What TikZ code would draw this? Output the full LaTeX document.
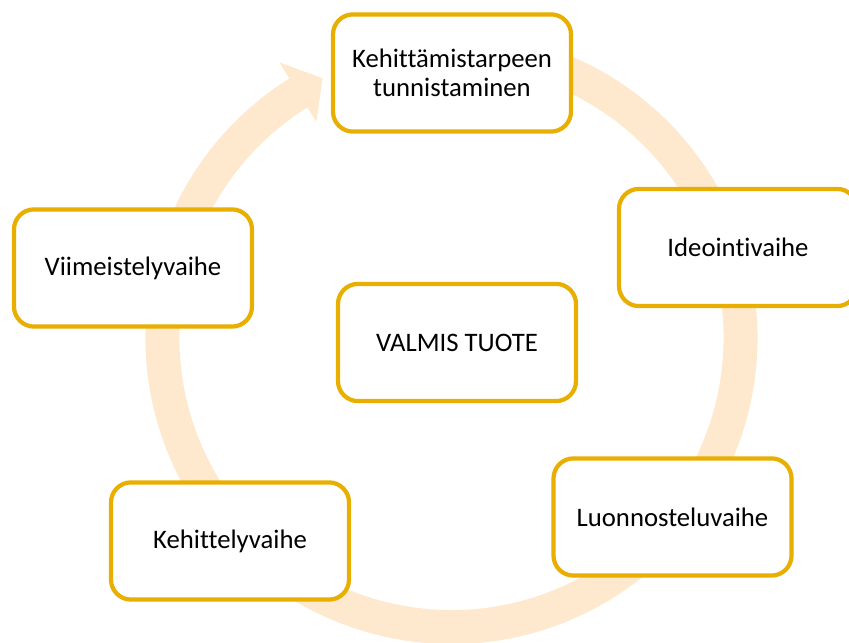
\documentclass[tikz,border=0pt]{standalone}
\usepackage{fontspec}
\setmainfont[Ligatures=NoCommon]{Carlito}
\usetikzlibrary{calc}
\definecolor{kulta}{RGB}{232,174,0}
\definecolor{persikka}{RGB}{254,232,206}
\newcommand{\kehasade}{7.225}
\tikzset{vaihe/.style={draw=kulta, line width=3pt, rounded corners=0.5cm, fill=white,
    minimum width=5.95cm, minimum height=2.93cm, align=center,
    font=\fontsize{19}{21}\selectfont}}

\begin{document}
\begin{tikzpicture}
                \useasboundingbox (0,0) rectangle (21.225,16.05);
                \coordinate (keskus) at (11.2875,7.6);

                % kehä ja nuolenkärki
                \draw[persikka, line width=0.85cm] ($(keskus)+(80:\kehasade)$) arc[start angle=80, end angle=-238.6, radius=\kehasade];
                \fill[persikka] ($(keskus)+(122:6.375)$) -- ($(keskus)+(116.4:7.25)$) -- ($(keskus)+(122:8.125)$) -- cycle;

                \node[vaihe] (tarve) at (11.3,14.225) {Kehittämistarpeen\\tunnistaminen};
                \node[vaihe] (ideointi) at (18.45,9.8625) {Ideointivaihe};
                \node[vaihe] (luonnostelu) at (16.8125,3.125) {Luonnosteluvaihe};
                \node[vaihe] (kehittely) at (5.75,2.525) {Kehittelyvaihe};
                \node[vaihe] (viimeistely) at (3.325,9.35) {Viimeistelyvaihe};
                \node[vaihe] (valmis) at (11.425,7.4875) {VALMIS TUOTE};
            \end{tikzpicture}
\end{document}
